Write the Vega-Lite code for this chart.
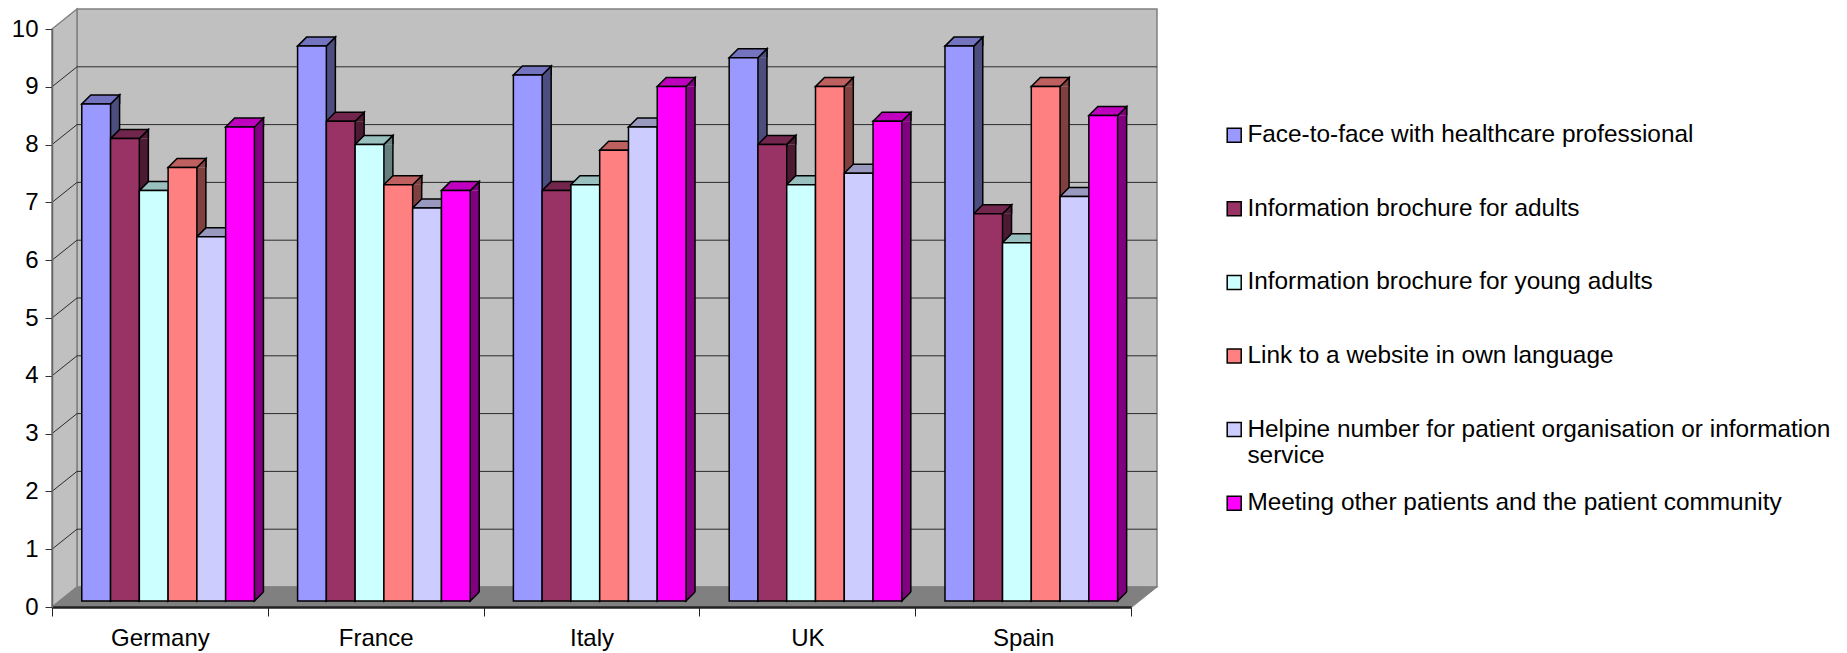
{
"$schema":"https://vega.github.io/schema/vega-lite/v6.json",
"width":1079,"height":578,"autosize":"none",
"padding":{"left":52,"top":29,"right":716,"bottom":46},
"background":"white",
"config":{"view":{"stroke":null},"font":"Liberation Sans"},
"datasets":{
"one":[{"wall":"plot"}],
"grid":[{"tick":1},{"tick":2},{"tick":3},{"tick":4},{"tick":5},{"tick":6},{"tick":7},{"tick":8},{"tick":9}],
"bars":[
{"country":"Germany","series":"Face-to-face with healthcare professional","value":8.6},
{"country":"Germany","series":"Information brochure for adults","value":8.0},
{"country":"Germany","series":"Information brochure for young adults","value":7.1},
{"country":"Germany","series":"Link to a website in own language","value":7.5},
{"country":"Germany","series":"Helpine number for patient organisation or information service","value":6.3},
{"country":"Germany","series":"Meeting other patients and the patient community","value":8.2},
{"country":"France","series":"Face-to-face with healthcare professional","value":9.6},
{"country":"France","series":"Information brochure for adults","value":8.3},
{"country":"France","series":"Information brochure for young adults","value":7.9},
{"country":"France","series":"Link to a website in own language","value":7.2},
{"country":"France","series":"Helpine number for patient organisation or information service","value":6.8},
{"country":"France","series":"Meeting other patients and the patient community","value":7.1},
{"country":"Italy","series":"Face-to-face with healthcare professional","value":9.1},
{"country":"Italy","series":"Information brochure for adults","value":7.1},
{"country":"Italy","series":"Information brochure for young adults","value":7.2},
{"country":"Italy","series":"Link to a website in own language","value":7.8},
{"country":"Italy","series":"Helpine number for patient organisation or information service","value":8.2},
{"country":"Italy","series":"Meeting other patients and the patient community","value":8.9},
{"country":"UK","series":"Face-to-face with healthcare professional","value":9.4},
{"country":"UK","series":"Information brochure for adults","value":7.9},
{"country":"UK","series":"Information brochure for young adults","value":7.2},
{"country":"UK","series":"Link to a website in own language","value":8.9},
{"country":"UK","series":"Helpine number for patient organisation or information service","value":7.4},
{"country":"UK","series":"Meeting other patients and the patient community","value":8.3},
{"country":"Spain","series":"Face-to-face with healthcare professional","value":9.6},
{"country":"Spain","series":"Information brochure for adults","value":6.7},
{"country":"Spain","series":"Information brochure for young adults","value":6.2},
{"country":"Spain","series":"Link to a website in own language","value":8.9},
{"country":"Spain","series":"Helpine number for patient organisation or information service","value":7.0},
{"country":"Spain","series":"Meeting other patients and the patient community","value":8.4}
]},
"data":{"name":"bars"},
"resolve":{"scale":{"fill":"independent","stroke":"independent","xOffset":"independent"}},
"layer":[
{"data":{"name":"one"},"mark":{"type":"point","filled":true,"size":4,"fill":"#C0C0C0","stroke":"#808080","strokeWidth":1.5,"opacity":1,"shape":"M25,-20 L1105,-20 L1105,-598 L25,-598 Z"},
 "encoding":{"x":{"datum":"Germany","type":"nominal","bandPosition":0,"title":null,"scale":{"domain":["Germany","France","Italy","UK","Spain"],"paddingInner":0,"paddingOuter":0},
   "axis":{"zindex":1,"tickBand":"extent","labelAngle":0,"labelFontSize":24,"labelFont":"Liberation Sans","labelColor":"black","labelPadding":10,"tickSize":9,"tickColor":"#222","domainColor":"#222","domainWidth":2.5,"tickWidth":1}},
  "y":{"datum":0,"type":"quantitative","title":null,"scale":{"domain":[0,10],"nice":false},
   "axis":{"zindex":1,"values":[0,1,2,3,4,5,6,7,8,9,10],"format":"d","grid":false,"labelFontSize":24,"labelFont":"Liberation Sans","labelColor":"black","labelPadding":7,"tickSize":7,"tickColor":"#333","domainColor":"#666","domainWidth":1.5,"tickWidth":1}}}},
{"data":{"name":"one"},"mark":{"type":"point","filled":true,"size":4,"fill":"#C0C0C0","stroke":"#808080","strokeWidth":1.5,"opacity":1,"shape":"M0,0 L25,-20 L25,-598 L0,-578 Z"},
 "encoding":{"x":{"datum":"Germany","type":"nominal","bandPosition":0,"title":null},"y":{"datum":0,"type":"quantitative","title":null}}},
{"data":{"name":"one"},"mark":{"type":"point","filled":true,"size":4,"fill":"#808080","stroke":"#808080","strokeWidth":1,"opacity":1,"shape":"M0,0 L25,-20 L1105,-20 L1080,0 Z"},
 "encoding":{"x":{"datum":"Germany","type":"nominal","bandPosition":0,"title":null},"y":{"datum":0,"type":"quantitative","title":null}}},
{"data":{"name":"grid"},"mark":{"type":"point","filled":false,"size":4,"stroke":"#2b2b2b","strokeWidth":1,"opacity":1,"shape":"M0,0 L25,-20 L1105,-20"},
 "encoding":{"x":{"datum":"Germany","type":"nominal","bandPosition":0,"title":null},"y":{"field":"tick","type":"quantitative","title":null}}},
{"mark":{"type":"rule","strokeWidth":9,"yOffset":-6,"y2Offset":-15},
 "encoding":{"x":{"field":"country","type":"nominal","sort":null,"title":null},
  "xOffset":{"field":"series","type":"nominal","sort":null,"scale":{"type":"band","paddingInner":0,"paddingOuter":0.75,"align":0.69,"range":[18.9,234.7]}},
  "y":{"field":"value","type":"quantitative","title":null},"y2":{"datum":0},
  "stroke":{"field":"series","type":"nominal","legend":null,"sort":null,"scale":{"range":["#4D4D80","#4D1A33","#668080","#804040","#666680","#800080"]}}}},
{"mark":{"type":"rule","strokeWidth":1.5,"yOffset":-15,"y2Offset":-15,"stroke":"black"},
 "encoding":{"x":{"field":"country","type":"nominal","sort":null,"title":null},
  "xOffset":{"field":"series","type":"nominal","sort":null,"scale":{"type":"band","paddingInner":0,"paddingOuter":0.75,"align":0.69,"range":[23.4,239.2]}},
  "y":{"field":"value","type":"quantitative","title":null},"y2":{"datum":0}}},
{"mark":{"type":"point","filled":true,"size":4,"stroke":"black","strokeWidth":1.5,"opacity":1,"yOffset":-6,"shape":"M14.4,0 L23.4,-9 L23.4,0"},
 "encoding":{"x":{"field":"country","type":"nominal","sort":null,"title":null},
  "xOffset":{"field":"series","type":"nominal","sort":null,"scale":{"type":"band","paddingInner":0,"paddingOuter":0.75,"align":0.69}},
  "y":{"field":"value","type":"quantitative","title":null},
  "fill":{"field":"series","type":"nominal","legend":null,"sort":null,"scale":{"range":["#4D4D80","#4D1A33","#668080","#804040","#666680","#800080"]}}}},
{"mark":{"type":"point","filled":true,"size":4,"stroke":"black","strokeWidth":1.5,"opacity":1,"yOffset":-6,"shape":"M23.4,-9 L14.4,0 L14.4,-9"},
 "encoding":{"x":{"field":"country","type":"nominal","sort":null,"title":null},
  "xOffset":{"field":"series","type":"nominal","sort":null,"scale":{"type":"band","paddingInner":0,"paddingOuter":0.75,"align":0.69}},
  "y":{"datum":0,"type":"quantitative","title":null},
  "fill":{"field":"series","type":"nominal","legend":null,"sort":null,"scale":{"range":["#4D4D80","#4D1A33","#668080","#804040","#666680","#800080"]}}}},
{"mark":{"type":"point","filled":true,"size":4,"stroke":"black","strokeWidth":1.5,"opacity":1,"yOffset":-6,"shape":"M-14.4,0 L14.4,0 L23.4,-9 L-5.4,-9 Z"},
 "encoding":{"x":{"field":"country","type":"nominal","sort":null,"title":null},
  "xOffset":{"field":"series","type":"nominal","sort":null,"scale":{"type":"band","paddingInner":0,"paddingOuter":0.75,"align":0.69}},
  "y":{"field":"value","type":"quantitative","title":null},
  "fill":{"field":"series","type":"nominal","legend":null,"sort":null,"scale":{"range":["#7373BF","#73264D","#99BFBF","#BF6060","#9999BF","#BF00BF"]}}}},
{"mark":{"type":"bar","stroke":"black","strokeWidth":1.5,"yOffset":-6,"y2Offset":-6},
 "encoding":{"x":{"field":"country","type":"nominal","sort":null,"title":null},
  "xOffset":{"field":"series","type":"nominal","sort":null,"scale":{"type":"band","paddingInner":0,"paddingOuter":0.75,"align":0.69}},
  "y":{"field":"value","type":"quantitative","title":null},
  "y2":{"datum":0},
  "fill":{"field":"series","type":"nominal","sort":null,"title":null,
   "scale":{"range":["#9999FF","#993366","#CCFFFF","#FF8080","#CCCCFF","#FF00FF"]},
   "legend":{"orient":"none","legendX":1170,"legendY":94,"padding":0,"gridAlign":"all","symbolType":"square","symbolSize":196,"symbolStrokeColor":"black","symbolStrokeWidth":1.5,"labelFontSize":24.4,"labelFont":"Liberation Sans","labelColor":"black","labelLimit":700,"rowPadding":22.6,"labelOffset":1,
    "labelExpr":"datum.label=='Helpine number for patient organisation or information service'?['Helpine number for patient organisation or information','service']:datum.label"}}}}
]}
